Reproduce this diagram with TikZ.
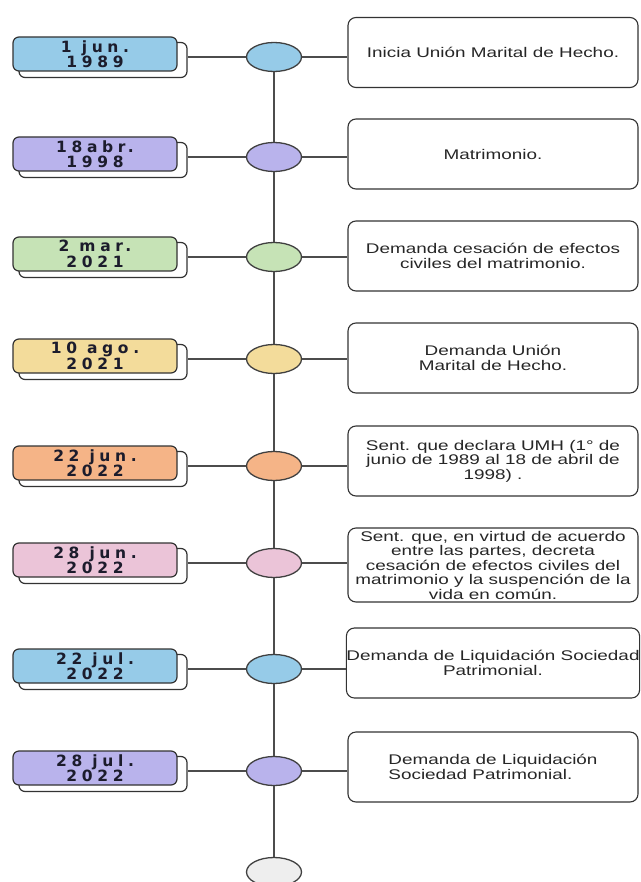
\documentclass[tikz,border=0pt]{standalone}
\usepackage{fontspec}
\setmainfont{Liberation Sans}
\newfontfamily\datefont[LetterSpace=30]{DejaVu Sans}
\newfontfamily\eventfont[FakeStretch=1.35]{Liberation Sans}
\usepackage{xcolor}
\usetikzlibrary{shapes.geometric,calc}
\definecolor{c_blue}{HTML}{96CBE8}
\definecolor{c_purple}{HTML}{B9B3EC}
\definecolor{c_green}{HTML}{C6E3B6}
\definecolor{c_yellow}{HTML}{F3DC9B}
\definecolor{c_orange}{HTML}{F5B487}
\definecolor{c_pink}{HTML}{EBC4D8}
\definecolor{c_grey}{HTML}{EEEEEE}
\definecolor{c_ink}{HTML}{1C1C2C}
\tikzset{
	date_back/.style={draw=black!80, line width=1.2pt, rounded corners=6pt, fill=white,
			minimum width=168pt, minimum height=35pt, inner sep=0pt},
	date_front/.style={draw=black!80, line width=1.2pt, rounded corners=6pt, fill=#1,
			minimum width=164pt, minimum height=34pt, inner sep=0pt, align=center, text=c_ink,
			font=\datefont\bfseries\fontsize{15.5}{15.5}\selectfont},
	dot/.style={ellipse, draw=black!75, line width=1.3pt, fill=#1,
			minimum width=55pt, minimum height=29pt, inner sep=0pt},
	event/.style={draw=black!80, line width=1.1pt, rounded corners=8pt,
			minimum width=290pt, minimum height=70pt, inner sep=0pt, align=center, text=black!85,
			font=\eventfont\fontsize{14}{14.5}\selectfont},
	stem/.style={draw=black!70, line width=1.2pt}
}

\begin{document}
\begin{tikzpicture}[x=1pt,y=-1pt]
        \useasboundingbox (0, 0) rectangle (640, 882);
        % 1 jun. 1989
        \node[date_back] (d_1_b) at (103, 60) {};
        \node[date_front=c_blue] (d_1) at (95, 54) {1 jun.\\1989};
        \node[dot=c_blue] (e_1) at (274, 57) {};
        \node[event] (t_1) at (493, 52.5) {Inicia Unión Marital de Hecho.};
        % 18abr. 1998
        \node[date_back] (d_2_b) at (103, 160) {};
        \node[date_front=c_purple] (d_2) at (95, 154) {18abr.\\1998};
        \node[dot=c_purple] (e_2) at (274, 157) {};
        \node[event] (t_2) at (493, 154) {Matrimonio.};
        % 2 mar. 2021
        \node[date_back] (d_3_b) at (103, 260) {};
        \node[date_front=c_green] (d_3) at (95, 254) {2 mar.\\2021};
        \node[dot=c_green] (e_3) at (274, 257) {};
        \node[event] (t_3) at (493, 256) {Demanda cesación de efectos\\civiles del matrimonio.};
        % 10 ago. 2021
        \node[date_back] (d_4_b) at (103, 362) {};
        \node[date_front=c_yellow] (d_4) at (95, 356) {10 ago.\\2021};
        \node[dot=c_yellow] (e_4) at (274, 359) {};
        \node[event] (t_4) at (493, 358) {Demanda Unión\\Marital de Hecho.};
        % 22 jun. 2022
        \node[date_back] (d_5_b) at (103, 469) {};
        \node[date_front=c_orange] (d_5) at (95, 463) {22 jun.\\2022};
        \node[dot=c_orange] (e_5) at (274, 466) {};
        \node[event] (t_5) at (493, 461) {Sent. que declara UMH (1° de\\junio de 1989 al 18 de abril de\\1998) .};
        % 28 jun. 2022
        \node[date_back] (d_6_b) at (103, 566) {};
        \node[date_front=c_pink] (d_6) at (95, 560) {28 jun.\\2022};
        \node[dot=c_pink] (e_6) at (274, 563) {};
        \node[event, minimum height=74pt] (t_6) at (493, 565) {Sent. que, en virtud de acuerdo\\entre las partes, decreta\\cesación de efectos civiles del\\matrimonio y la suspención de la\\vida en común.};
        % 22 jul. 2022
        \node[date_back] (d_7_b) at (103, 672) {};
        \node[date_front=c_blue] (d_7) at (95, 666) {22 jul.\\2022};
        \node[dot=c_blue] (e_7) at (274, 669) {};
        \node[event] (t_7) at (493, 663) {Demanda de Liquidación Sociedad\\Patrimonial.};
        % 28 jul. 2022
        \node[date_back] (d_8_b) at (103, 774) {};
        \node[date_front=c_purple] (d_8) at (95, 768) {28 jul.\\2022};
        \node[dot=c_purple] (e_8) at (274, 771) {};
        \node[event, align=left] (t_8) at (493, 767) {Demanda de Liquidación\\Sociedad Patrimonial.};
        % end of the line
        \node[dot=c_grey] (e_9) at (274, 872) {};
        \draw[stem] (e_1.south) -- (e_2.north);
        \draw[stem] (e_2.south) -- (e_3.north);
        \draw[stem] (e_3.south) -- (e_4.north);
        \draw[stem] (e_4.south) -- (e_5.north);
        \draw[stem] (e_5.south) -- (e_6.north);
        \draw[stem] (e_6.south) -- (e_7.north);
        \draw[stem] (e_7.south) -- (e_8.north);
        \draw[stem] (e_8.south) -- (e_9.north);
        \draw[stem] (e_1.west) -- (e_1.west -| d_1_b.east);
        \draw[stem] (e_2.west) -- (e_2.west -| d_2_b.east);
        \draw[stem] (e_3.west) -- (e_3.west -| d_3_b.east);
        \draw[stem] (e_4.west) -- (e_4.west -| d_4_b.east);
        \draw[stem] (e_5.west) -- (e_5.west -| d_5_b.east);
        \draw[stem] (e_6.west) -- (e_6.west -| d_6_b.east);
        \draw[stem] (e_7.west) -- (e_7.west -| d_7_b.east);
        \draw[stem] (e_8.west) -- (e_8.west -| d_8_b.east);
        \draw[stem] (e_1.east) -- (e_1.east -| t_1.west);
        \draw[stem] (e_2.east) -- (e_2.east -| t_2.west);
        \draw[stem] (e_3.east) -- (e_3.east -| t_3.west);
        \draw[stem] (e_4.east) -- (e_4.east -| t_4.west);
        \draw[stem] (e_5.east) -- (e_5.east -| t_5.west);
        \draw[stem] (e_6.east) -- (e_6.east -| t_6.west);
        \draw[stem] (e_7.east) -- (e_7.east -| t_7.west);
        \draw[stem] (e_8.east) -- (e_8.east -| t_8.west);
\end{tikzpicture}
\end{document}
